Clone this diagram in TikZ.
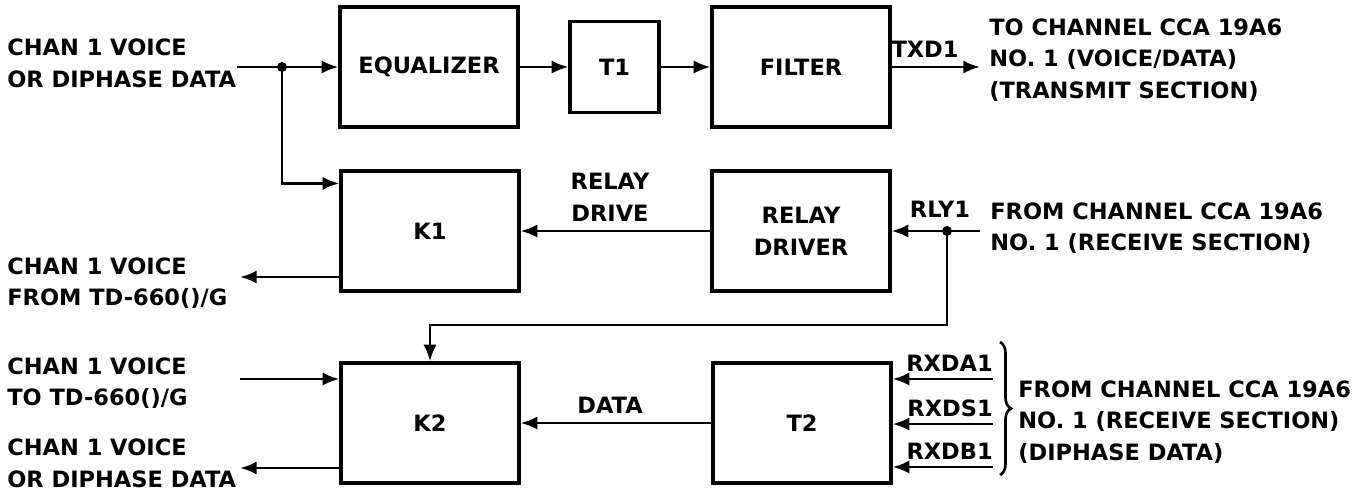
\documentclass[tikz,border=0pt]{standalone}
\usepackage{fontspec}
\setmainfont{DejaVu Sans}
\usetikzlibrary{arrows.meta,positioning,calc,decorations.pathreplacing}

\begin{document}
\begin{tikzpicture}[font=\bfseries\fontsize{12.8}{18}\selectfont,
    >={Latex[length=9.5pt,width=7.5pt]},
    blk/.style={draw, line width=1.8pt, minimum width=3.56cm,
                minimum height=2.4cm, align=center, inner sep=0pt},
    arr/.style={->, line width=1.6pt},
    lbl/.style={align=left, anchor=west, inner sep=0pt}]

  \useasboundingbox (0,0) rectangle (27.1,-9.86);

  %% Blocks (three rows)
  \node[blk] (eq)  at ( 8.58,-1.34) {EQUALIZER};
  \node[blk, minimum width=1.78cm, minimum height=1.82cm]
             (t1)  at (12.29,-1.34) {T1};
  \node[blk] (flt) at (16.02,-1.34) {FILTER};
  \node[blk] (k1)  at ( 8.60,-4.62) {K1};
  \node[blk] (rd)  at (16.02,-4.62) {RELAY\\DRIVER};
  \node[blk] (k2)  at ( 8.60,-8.46) {K2};
  \node[blk] (t2)  at (16.04,-8.46) {T2};

  %% Left side texts
  \node[lbl] (tin)  at (0.14,-1.26) {CHAN 1 VOICE\\OR DIPHASE DATA};
  \node[lbl] (tk1)  at (0.14,-5.66) {CHAN 1 VOICE\\FROM TD-660()/G};
  \node[lbl] (tk2i) at (0.14,-7.66) {CHAN 1 VOICE\\TO TD-660()/G};
  \node[lbl] (tk2o) at (0.14,-9.26) {CHAN 1 VOICE\\OR DIPHASE DATA};

  %% Right side texts
  \node[lbl] (ttx) at (19.78,-1.20)
    {TO CHANNEL CCA 19A6\\NO. 1 (VOICE/DATA)\\(TRANSMIT SECTION)};
  \node[lbl] (trx) at (19.80,-4.56)
    {FROM CHANNEL CCA 19A6\\NO. 1 (RECEIVE SECTION)};
  \node[lbl] (tdp) at (20.36,-8.44)
    {FROM CHANNEL CCA 19A6\\NO. 1 (RECEIVE SECTION)\\(DIPHASE DATA)};

  %% Top row signal path
  \coordinate (in1) at (4.74,-1.34);
  \coordinate (j1)  at (5.64,-1.34);
  \coordinate (txd) at (19.6,-1.34);
  \draw[arr] (in1) -- (eq.west);
  \draw[arr] (eq) -- (t1);
  \draw[arr] (t1) -- (flt);
  \draw[arr] (flt) -- (txd);
  \node (txdl) at (18.5,-0.98) {TXD1};
  \draw[arr] (j1) |- ([yshift=-0.28cm]k1.north west);
  \fill (j1) circle (0.1);

  %% Relay path
  \coordinate (o1)  at (4.8,-5.54);
  \coordinate (rly) at (19.6,-4.62);
  \coordinate (j2)  at (18.94,-4.62);
  \coordinate (lp)  at (8.6,-6.5);
  \draw[arr] (o1 -| k1.west) -- (o1);
  \draw[arr] (rd) -- (k1);
  \node[align=center] (rdl) at (12.2,-3.94) {RELAY\\DRIVE};
  \draw[arr] (rly) -- (rd);
  \node (rlyl) at (18.8,-4.18) {RLY1};
  \draw[arr] (j2) |- (lp) -- (k2);
  \fill (j2) circle (0.1);

  %% Receive data path
  \coordinate (i2) at (4.8,-7.58);
  \coordinate (o2) at (4.8,-9.36);
  \draw[arr] (i2) -- (i2 -| k2.west);
  \draw[arr] (o2 -| k2.west) -- (o2);
  \draw[arr] (t2) -- (k2);
  \node (datl) at (12.2,-8.1) {DATA};
  \foreach \nm/\yy/\txt in {ra/-7.58/RXDA1, rs/-8.48/RXDS1, rb/-9.34/RXDB1} {
    \coordinate (\nm) at (19.86,\yy);
    \draw[arr] (\nm) -- (\nm -| t2.east);
    \node[above left, inner sep=0pt, yshift=4pt] (\nm l) at (\nm) {\txt};
  }
  \coordinate (bt) at (20.0,-6.84);
  \coordinate (bb) at (20.0,-9.5);
  \draw[line width=1.5pt, decorate, decoration={brace, amplitude=0.22cm}]
    (bt) -- (bb);
\end{tikzpicture}
\end{document}
